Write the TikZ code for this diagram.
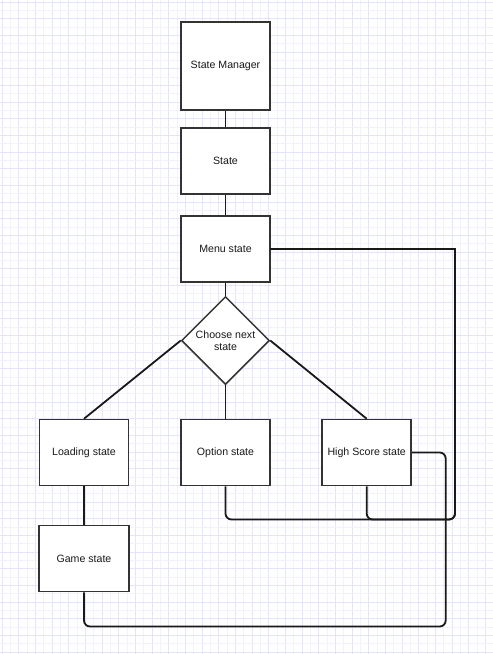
\documentclass[tikz,border=0pt]{standalone}
\usepackage{fontspec}
\setmainfont{Liberation Sans}
\usetikzlibrary{shapes.geometric}
\definecolor{gridmaj}{RGB}{228,228,252}
\definecolor{gridmin}{RGB}{242,242,254}
\definecolor{boxline}{RGB}{51,51,51}
\definecolor{connline}{RGB}{25,25,25}
\definecolor{txt}{RGB}{25,25,25}
\begin{document}
\begin{tikzpicture}[x=1pt,y=-1pt,
  statebox/.style={draw=boxline,fill=white,line width=1.5pt,minimum width=89pt,minimum height=66pt,inner sep=0pt,font=\fontsize{10.6}{12.5}\selectfont,text=txt},
  choicebox/.style={diamond,draw=boxline,fill=white,line width=1.5pt,minimum width=88pt,minimum height=88pt,inner sep=0pt,align=center,font=\fontsize{10.6}{12.5}\selectfont,text=txt},
  conn/.style={draw=connline,line width=1.8pt},
  majg/.style={draw=gridmaj,line width=0.9pt},
  ming/.style={draw=gridmin,line width=0.9pt}]
\useasboundingbox (0,0) rectangle (493,654);
\fill[white] (0,0) rectangle (493,654);
\foreach \i in {0,...,58}{%
  \pgfmathsetmacro\xx{2+8.3333*\i}%
  \ifodd\i \draw[ming] (\xx,0) -- (\xx,654); \else \draw[majg] (\xx,0) -- (\xx,654); \fi}
\foreach \i in {0,...,78}{%
  \pgfmathsetmacro\yy{2+8.3333*\i}%
  \ifodd\i \draw[ming] (0,\yy) -- (493,\yy); \else \draw[majg] (0,\yy) -- (493,\yy); \fi}

\node[statebox,minimum height=88pt] (sm) at (225.5,66) {State Manager};
\node[statebox] (st) at (225.5,161) {State};
\node[statebox] (menu) at (225.5,249) {Menu state};
\node[choicebox] (choose) at (225.5,340.5) {Choose next\\state};
\node[statebox] (load) at (84,452.5) {Loading state};
\node[statebox] (opt) at (225.5,452.5) {Option state};
\node[statebox] (hs) at (366.7,452.5) {High Score state};
\node[statebox,minimum width=90pt] (game) at (84,558.5) {Game state};

\coordinate (c1) at (455,249);
\coordinate (b1) at (455,519.5);
\coordinate (r1) at (445.7,626.5);

\draw[conn] (sm.south) -- (st.north);
\draw[conn] (st.south) -- (menu.north);
\draw[conn] (menu.south) -- (choose.north);
\draw[conn] (choose.west) -- (load.north);
\draw[conn] (choose.south) -- (opt.north);
\draw[conn] (choose.east) -- (hs.north);
\draw[conn] (load.south) -- (game.north);
\draw[conn,line cap=rect] (menu.east) -- (c1);
\draw[conn,rounded corners=6pt] (c1) -- (b1) -- (opt.south |- b1) -- (opt.south);
\draw[conn,rounded corners=6pt] (hs.south) -- (hs.south |- b1) -- (b1) -- (c1);
\draw[conn,rounded corners=6pt] (hs.east) -- (hs.east -| r1) -- (r1) -- (game.south |- r1) -- (game.south);
\end{tikzpicture}
\end{document}
